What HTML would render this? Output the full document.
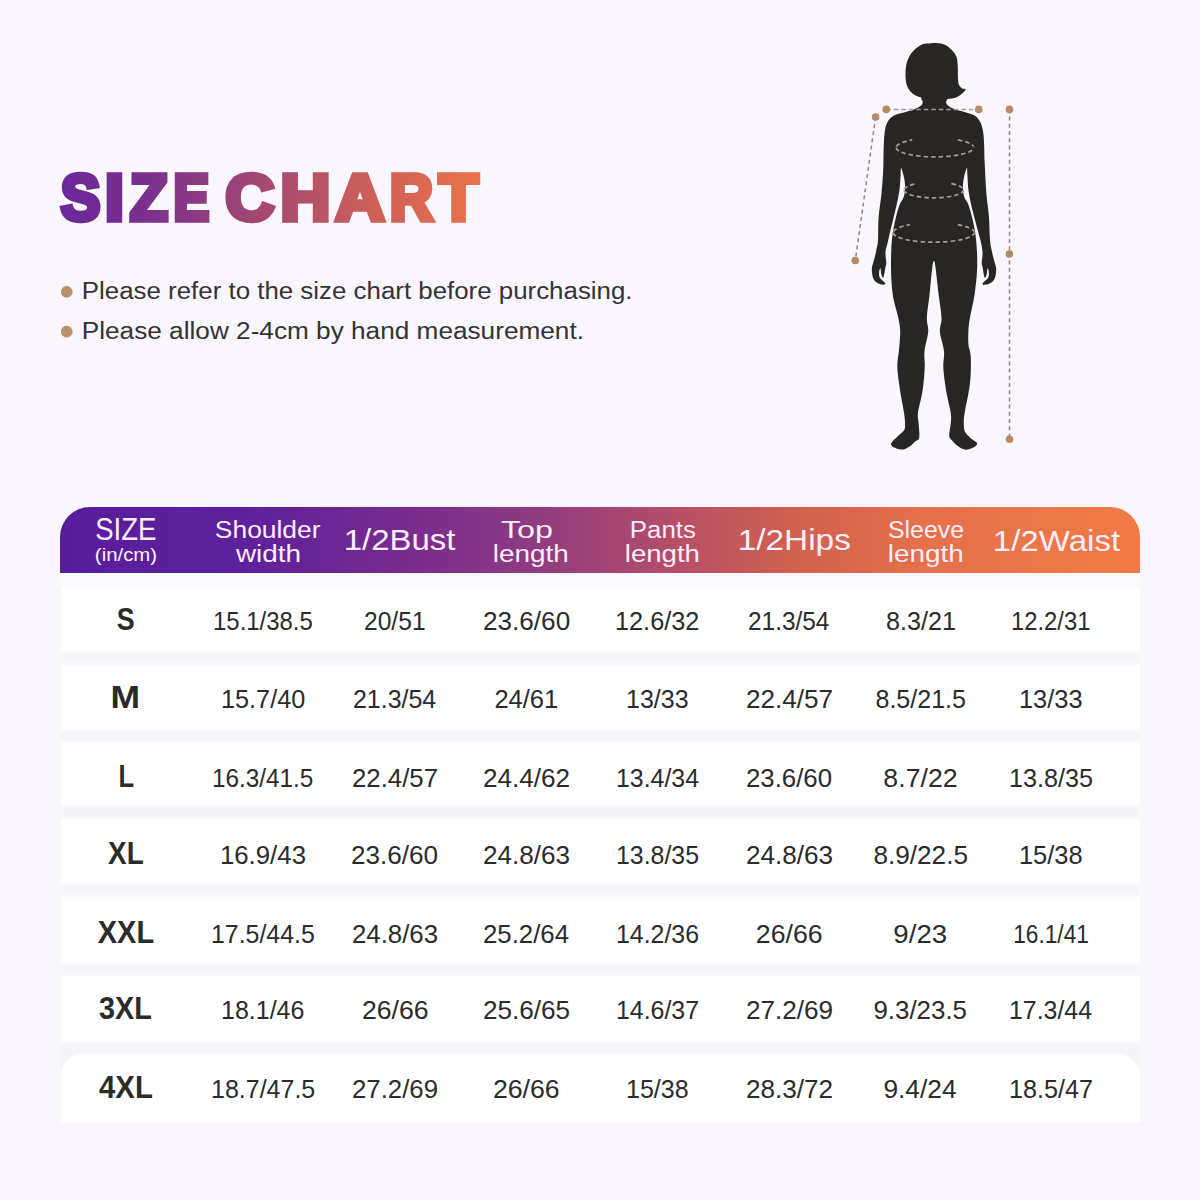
<!DOCTYPE html><html><head><meta charset="utf-8"><style>
html,body{margin:0;padding:0;}
body{width:1200px;height:1200px;position:relative;overflow:hidden;background:#f9f7fd;}
svg{position:absolute;left:0;top:0;}
</style></head><body>
<svg width="1200" height="1200" viewBox="0 0 1200 1200" style="font-family:'Liberation Sans',sans-serif">
<defs><linearGradient id="tg" gradientUnits="userSpaceOnUse" x1="60" y1="0" x2="480" y2="0"><stop offset="0" stop-color="#6a2898"/><stop offset="0.2" stop-color="#7a2f90"/><stop offset="0.32" stop-color="#8b3a84"/><stop offset="0.45" stop-color="#a04574"/><stop offset="0.58" stop-color="#b35168"/><stop offset="0.71" stop-color="#c95d5c"/><stop offset="0.84" stop-color="#d86652"/><stop offset="1" stop-color="#e8734a"/></linearGradient>
<linearGradient id="hg" gradientUnits="userSpaceOnUse" x1="60" y1="0" x2="1140" y2="0"><stop offset="0" stop-color="#581d9d"/><stop offset="0.176" stop-color="#5f219b"/><stop offset="0.315" stop-color="#772b8f"/><stop offset="0.426" stop-color="#8c3983"/><stop offset="0.519" stop-color="#a64672"/><stop offset="0.593" stop-color="#bd5262"/><stop offset="0.676" stop-color="#d0604f"/><stop offset="0.8" stop-color="#e5704a"/><stop offset="1" stop-color="#f07b45"/></linearGradient></defs>
<circle cx="66.75" cy="291.9" r="5.9" fill="#bd906c"/>
<circle cx="66.75" cy="331.6" r="5.9" fill="#bd906c"/>
<g fill="none" stroke="#8d8781" stroke-width="1.5" stroke-dasharray="4 3.2">
<line x1="875.6" y1="117" x2="855.3" y2="260.5"/>
<line x1="1009.5" y1="109.4" x2="1009.5" y2="439.3"/>
</g>
<path fill="#282625" d="M936.2 43.0 C939.1 43.2 942.8 43.7 945.5 45.0 C948.2 46.3 950.6 48.8 952.5 50.8 C954.4 52.8 955.7 54.6 956.6 57.3 C957.5 60.0 957.6 63.6 957.8 67.2 C958.0 70.8 957.8 75.9 958.0 78.8 C958.2 81.7 958.3 83.1 958.9 84.7 C959.5 86.3 960.7 87.4 961.8 88.2 C962.9 89.0 965.4 88.5 965.6 89.3 C965.8 90.1 964.4 91.5 963.0 92.8 C961.6 94.1 959.4 95.9 957.2 96.9 C955.0 97.9 953.3 98.3 949.6 98.7 C945.9 99.1 940.0 99.8 935.0 99.5 C930.0 99.2 923.2 98.0 919.3 96.9 C915.4 95.8 913.8 94.7 911.7 92.8 C909.7 90.9 908.0 88.6 907.0 85.8 C906.0 83.0 905.6 79.5 905.5 75.9 C905.4 72.3 905.7 67.7 906.4 64.3 C907.1 60.9 908.4 58.0 909.9 55.5 C911.4 53.0 913.2 51.0 915.2 49.1 C917.2 47.2 920.1 45.3 922.2 44.4 C924.3 43.5 925.7 43.8 928.0 43.6 C930.3 43.4 933.3 42.8 936.2 43.0Z"/>
<path fill="#282625" d="M922.8 97.0 C926.6 96.1 942.2 96.1 946.1 97.0 C950.0 97.9 945.7 100.7 946.1 102.2 C946.5 103.7 946.8 104.6 948.3 105.8 C949.8 107.0 952.5 108.5 955.0 109.5 C957.5 110.5 960.0 110.7 963.3 111.7 C966.6 112.8 972.1 113.9 975.0 115.8 C977.9 117.7 979.4 120.4 980.8 123.3 C982.2 126.2 982.7 129.4 983.3 133.3 C983.9 137.2 984.0 142.0 984.2 146.7 C984.4 151.4 984.2 153.7 984.6 161.3 C985.0 168.9 985.6 183.1 986.3 192.5 C987.0 201.9 988.4 209.6 989.0 217.5 C989.6 225.4 989.5 234.5 990.0 240.0 C990.5 245.5 991.0 246.9 991.7 250.4 C992.4 253.9 993.4 257.7 994.2 260.8 C995.0 263.9 996.2 266.1 996.2 269.2 C996.2 272.3 995.6 277.1 994.2 279.6 C992.8 282.1 989.9 283.5 987.9 284.2 C985.9 284.9 982.4 284.9 982.5 283.8 C982.6 282.6 987.3 279.6 988.3 277.5 C989.3 275.4 988.9 272.8 988.8 271.2 C988.6 269.7 987.8 267.8 987.5 268.3 C987.2 268.8 987.2 272.7 986.7 274.2 C986.2 275.7 985.3 278.7 984.6 277.5 C983.9 276.3 983.0 269.4 982.5 267.0 C982.0 264.6 981.7 265.3 981.7 262.9 C981.7 260.5 982.7 256.3 982.5 252.5 C982.3 248.7 981.6 245.4 980.4 240.0 C979.1 234.6 976.5 225.8 975.0 220.0 C973.5 214.2 972.4 210.0 971.2 205.0 C970.1 200.0 969.0 195.0 968.4 190.0 C967.8 185.0 967.7 178.7 967.4 175.0 C967.1 171.3 967.4 167.2 966.8 168.0 C966.1 168.8 964.1 176.3 963.5 180.0 C962.9 183.7 962.8 187.1 963.0 190.0 C963.2 192.9 963.6 195.0 964.5 197.5 C965.4 200.0 967.1 201.2 968.5 205.0 C969.9 208.8 971.4 214.2 972.7 220.0 C974.0 225.8 975.4 232.1 976.1 240.0 C976.9 247.9 977.5 258.3 977.2 267.5 C976.9 276.7 975.7 286.6 974.5 295.0 C973.3 303.4 970.9 311.9 969.9 318.0 C968.9 324.1 968.6 327.2 968.4 331.7 C968.2 336.2 968.1 340.8 968.5 345.0 C968.9 349.2 970.5 350.3 970.7 356.7 C971.0 363.1 971.0 374.0 970.0 383.3 C969.0 392.6 965.7 406.1 964.7 412.7 C963.7 419.3 963.7 419.8 963.8 423.0 C963.8 426.2 963.8 429.1 965.0 431.7 C966.2 434.2 968.8 436.4 970.8 438.3 C972.8 440.2 976.7 441.8 977.1 443.3 C977.5 444.8 975.3 446.4 973.3 447.5 C971.3 448.6 967.6 449.9 965.0 449.6 C962.4 449.3 959.7 447.4 957.5 445.8 C955.3 444.2 953.1 441.7 951.7 440.0 C950.3 438.3 949.4 438.6 949.2 435.8 C949.1 433.0 950.5 426.9 950.8 423.0 C951.0 419.1 951.5 418.2 950.7 412.7 C949.9 407.2 947.2 397.6 946.0 390.0 C944.8 382.4 943.6 373.8 943.3 367.3 C943.0 360.8 944.6 356.9 944.0 351.0 C943.4 345.1 940.3 337.2 939.9 331.7 C939.5 326.2 941.7 324.1 941.5 318.0 C941.3 311.9 939.7 303.4 938.7 295.0 C937.7 286.6 936.3 273.1 935.5 267.5 C934.7 261.9 934.6 261.1 934.1 261.1 C933.6 261.1 933.1 261.9 932.3 267.5 C931.5 273.1 930.4 286.6 929.5 295.0 C928.6 303.4 927.0 311.9 926.8 318.0 C926.6 324.1 928.6 326.2 928.2 331.7 C927.8 337.2 925.1 345.1 924.5 351.0 C923.9 356.9 925.0 360.8 924.7 367.3 C924.4 373.8 923.8 382.4 922.7 390.0 C921.6 397.6 918.7 407.2 918.0 412.7 C917.3 418.2 918.4 418.9 918.6 423.0 C918.8 427.1 919.8 434.4 919.2 437.5 C918.6 440.6 916.7 440.2 915.0 441.7 C913.3 443.2 911.4 445.4 909.2 446.7 C907.0 448.0 904.4 449.6 901.7 449.6 C899.1 449.7 895.0 448.1 893.3 447.0 C891.6 445.9 890.6 445.0 891.2 443.3 C891.9 441.6 894.8 439.2 897.0 437.0 C899.2 434.8 902.9 432.3 904.2 430.0 C905.5 427.7 905.0 425.9 905.0 423.0 C905.0 420.1 904.8 418.2 904.0 412.7 C903.2 407.2 901.1 397.6 900.0 390.0 C898.9 382.4 897.5 374.0 897.3 367.3 C897.1 360.6 898.5 355.9 899.0 350.0 C899.5 344.1 900.3 337.0 900.2 331.7 C900.1 326.4 899.5 324.1 898.3 318.0 C897.1 311.9 894.0 303.4 892.8 295.0 C891.6 286.6 891.1 276.7 891.0 267.5 C890.9 258.3 891.2 247.9 891.9 240.0 C892.6 232.1 894.0 225.8 895.3 220.0 C896.6 214.2 898.1 208.8 899.5 205.0 C900.9 201.2 902.6 200.0 903.5 197.5 C904.4 195.0 904.8 192.9 905.0 190.0 C905.2 187.1 905.1 183.7 904.5 180.0 C903.9 176.3 901.9 168.8 901.2 168.0 C900.6 167.2 900.9 171.3 900.6 175.0 C900.3 178.7 900.2 185.0 899.5 190.0 C898.8 195.0 897.7 200.0 896.6 205.0 C895.5 210.0 894.5 213.8 893.0 220.0 C891.5 226.2 889.0 236.6 887.8 242.0 C886.5 247.4 885.7 249.0 885.5 252.5 C885.3 256.0 886.3 260.5 886.3 262.9 C886.3 265.3 886.0 264.6 885.5 267.0 C885.0 269.4 884.1 276.3 883.4 277.5 C882.7 278.7 881.8 275.7 881.3 274.2 C880.8 272.7 880.8 268.8 880.5 268.3 C880.2 267.8 879.4 269.7 879.2 271.2 C879.1 272.8 878.7 275.4 879.7 277.5 C880.7 279.6 885.4 282.6 885.5 283.8 C885.6 284.9 882.1 284.9 880.1 284.2 C878.1 283.5 875.2 282.1 873.8 279.6 C872.4 277.1 871.8 272.3 871.8 269.2 C871.8 266.1 873.0 263.9 873.8 260.8 C874.6 257.7 875.6 253.9 876.3 250.4 C877.0 246.9 877.6 245.5 878.0 240.0 C878.4 234.5 878.0 225.4 878.6 217.5 C879.2 209.6 880.8 200.8 881.6 192.5 C882.4 184.2 882.9 175.1 883.3 167.5 C883.6 159.9 883.4 152.9 883.7 146.7 C884.0 140.4 884.2 134.3 885.0 130.0 C885.8 125.7 886.6 123.3 888.3 120.8 C890.0 118.3 891.9 116.5 895.0 115.0 C898.1 113.5 903.5 112.6 906.7 111.7 C909.9 110.8 911.6 110.5 914.0 109.5 C916.4 108.5 919.3 107.0 920.8 105.8 C922.3 104.6 922.4 103.7 922.8 102.2 C923.1 100.7 918.9 97.9 922.8 97.0Z"/>
<g fill="none" stroke="#a39d97" stroke-width="1.7" stroke-dasharray="4.5 3">
<line x1="886.3" y1="109.5" x2="978.8" y2="109.5"/>
<path d="M896.2 147.5 A38.8 9.4 0 0 0 973.8 147.5"/>
<path d="M896.4 146.6 A38.8 9.4 0 0 1 912.2 139.9"/>
<path d="M957.8 139.9 A38.8 9.4 0 0 1 973.6 146.6"/>
<path d="M904.1 190.0 A29.7 7.8 0 0 0 963.5 190.0"/>
<path d="M904.2 189.3 A29.7 7.8 0 0 1 916.3 183.7"/>
<path d="M951.3 183.7 A29.7 7.8 0 0 1 963.4 189.3"/>
<path d="M893.2 232.5 A40.6 9.7 0 0 0 974.4 232.5"/>
<path d="M893.4 231.6 A40.6 9.7 0 0 1 909.9 224.7"/>
<path d="M957.7 224.7 A40.6 9.7 0 0 1 974.2 231.6"/>
</g>
<circle cx="886.3" cy="109.4" r="3.8" fill="#b48b66"/>
<circle cx="978.8" cy="109.4" r="3.8" fill="#b48b66"/>
<circle cx="1009.5" cy="109.4" r="3.8" fill="#b48b66"/>
<circle cx="875.6" cy="117.0" r="3.8" fill="#b48b66"/>
<circle cx="855.3" cy="260.5" r="3.8" fill="#b48b66"/>
<circle cx="1009.5" cy="254.0" r="3.8" fill="#b48b66"/>
<circle cx="1009.5" cy="439.3" r="3.8" fill="#b48b66"/>
<path d="M60 573 L60 537 A30 30 0 0 1 90 507 L1110 507 A30 30 0 0 1 1140 537 L1140 573 Z" fill="url(#hg)"/>
<rect x="61" y="573" width="1079" height="549" fill="#ffffff"/>
<rect x="61" y="573" width="1079" height="14" fill="#fbfafd"/>
<filter id="gb" x="-5%" y="-100%" width="110%" height="300%"><feGaussianBlur stdDeviation="1.6"/></filter>
<g filter="url(#gb)">
<rect x="61" y="652.5" width="1079" height="12.0" fill="#f5f4f8"/>
<rect x="61" y="729.5" width="1079" height="12.0" fill="#f5f4f8"/>
<rect x="61" y="806.0" width="1079" height="12.0" fill="#f5f4f8"/>
<rect x="61" y="884.0" width="1079" height="12.0" fill="#f5f4f8"/>
<rect x="61" y="963.5" width="1079" height="12.0" fill="#f5f4f8"/>
<rect x="61" y="1042.0" width="1079" height="12.0" fill="#f5f4f8"/>
</g>
<path d="M61 1048.0 L61 1076.0 A22 22 0 0 1 83.0 1054.0 Z" fill="#f5f4f8"/>
<path d="M61 1048.0 L83.0 1048.0 L83.0 1054.0 Z" fill="#f5f4f8"/>
<path d="M1140 1048.0 L1140 1076.0 A22 22 0 0 0 1118.0 1054.0 L1118.0 1048.0 Z" fill="#f5f4f8"/>
<text x="81.80" y="298.50" font-size="23.50" font-weight="normal" fill="#333333" textLength="550.75" lengthAdjust="spacingAndGlyphs">Please refer to the size chart before purchasing.</text>
<text x="81.77" y="338.50" font-size="23.50" font-weight="normal" fill="#333333" textLength="502.19" lengthAdjust="spacingAndGlyphs">Please allow 2-4cm by hand measurement.</text>
<text x="95.13" y="540.00" font-size="31.30" font-weight="normal" fill="#fdeefc" textLength="61.35" lengthAdjust="spacingAndGlyphs">SIZE</text>
<text x="94.87" y="560.50" font-size="18.00" font-weight="normal" fill="#fdeefc" textLength="62.26" lengthAdjust="spacingAndGlyphs">(in/cm)</text>
<text x="214.89" y="538.00" font-size="24.70" font-weight="normal" fill="#fdeefc" textLength="105.56" lengthAdjust="spacingAndGlyphs">Shoulder</text>
<text x="235.90" y="562.00" font-size="24.70" font-weight="normal" fill="#fdeefc" textLength="65.14" lengthAdjust="spacingAndGlyphs">width</text>
<text x="343.75" y="550.00" font-size="29.30" font-weight="normal" fill="#fdeefc" textLength="111.65" lengthAdjust="spacingAndGlyphs">1/2Bust</text>
<text x="500.90" y="538.00" font-size="24.70" font-weight="normal" fill="#fdeefc" textLength="52.10" lengthAdjust="spacingAndGlyphs">Top</text>
<text x="492.74" y="562.00" font-size="24.70" font-weight="normal" fill="#fdeefc" textLength="76.01" lengthAdjust="spacingAndGlyphs">length</text>
<text x="629.88" y="538.00" font-size="24.70" font-weight="normal" fill="#fdeefc" textLength="66.00" lengthAdjust="spacingAndGlyphs">Pants</text>
<text x="624.83" y="562.00" font-size="24.70" font-weight="normal" fill="#fdeefc" textLength="75.07" lengthAdjust="spacingAndGlyphs">length</text>
<text x="737.67" y="550.00" font-size="29.30" font-weight="normal" fill="#fdeefc" textLength="113.23" lengthAdjust="spacingAndGlyphs">1/2Hips</text>
<text x="887.98" y="538.00" font-size="24.70" font-weight="normal" fill="#fdeefc" textLength="76.13" lengthAdjust="spacingAndGlyphs">Sleeve</text>
<text x="887.74" y="562.00" font-size="24.70" font-weight="normal" fill="#fdeefc" textLength="76.01" lengthAdjust="spacingAndGlyphs">length</text>
<text x="992.74" y="550.80" font-size="29.30" font-weight="normal" fill="#fdeefc" textLength="127.44" lengthAdjust="spacingAndGlyphs">1/2Waist</text>
<text x="116.86" y="629.50" font-size="31.00" font-weight="bold" fill="#2b2b2b" textLength="17.85" lengthAdjust="spacingAndGlyphs">S</text>
<text x="213.05" y="629.50" font-size="25.00" font-weight="normal" fill="#2b2b2b" textLength="99.78" lengthAdjust="spacingAndGlyphs">15.1/38.5</text>
<text x="364.02" y="629.50" font-size="25.00" font-weight="normal" fill="#2b2b2b" textLength="61.54" lengthAdjust="spacingAndGlyphs">20/51</text>
<text x="482.95" y="629.50" font-size="25.00" font-weight="normal" fill="#2b2b2b" textLength="87.25" lengthAdjust="spacingAndGlyphs">23.6/60</text>
<text x="614.95" y="629.50" font-size="25.00" font-weight="normal" fill="#2b2b2b" textLength="84.50" lengthAdjust="spacingAndGlyphs">12.6/32</text>
<text x="748.03" y="629.50" font-size="25.00" font-weight="normal" fill="#2b2b2b" textLength="81.40" lengthAdjust="spacingAndGlyphs">21.3/54</text>
<text x="885.98" y="629.50" font-size="25.00" font-weight="normal" fill="#2b2b2b" textLength="69.95" lengthAdjust="spacingAndGlyphs">8.3/21</text>
<text x="1011.06" y="629.50" font-size="25.00" font-weight="normal" fill="#2b2b2b" textLength="79.34" lengthAdjust="spacingAndGlyphs">12.2/31</text>
<text x="110.62" y="708.00" font-size="31.00" font-weight="bold" fill="#2b2b2b" textLength="29.57" lengthAdjust="spacingAndGlyphs">M</text>
<text x="220.98" y="708.00" font-size="25.00" font-weight="normal" fill="#2b2b2b" textLength="84.35" lengthAdjust="spacingAndGlyphs">15.7/40</text>
<text x="353.00" y="708.00" font-size="25.00" font-weight="normal" fill="#2b2b2b" textLength="83.23" lengthAdjust="spacingAndGlyphs">21.3/54</text>
<text x="494.44" y="708.00" font-size="25.00" font-weight="normal" fill="#2b2b2b" textLength="63.71" lengthAdjust="spacingAndGlyphs">24/61</text>
<text x="625.97" y="708.00" font-size="25.00" font-weight="normal" fill="#2b2b2b" textLength="62.60" lengthAdjust="spacingAndGlyphs">13/33</text>
<text x="745.96" y="708.00" font-size="25.00" font-weight="normal" fill="#2b2b2b" textLength="87.14" lengthAdjust="spacingAndGlyphs">22.4/57</text>
<text x="875.49" y="708.00" font-size="25.00" font-weight="normal" fill="#2b2b2b" textLength="90.47" lengthAdjust="spacingAndGlyphs">8.5/21.5</text>
<text x="1018.95" y="708.00" font-size="25.00" font-weight="normal" fill="#2b2b2b" textLength="63.66" lengthAdjust="spacingAndGlyphs">13/33</text>
<text x="118.53" y="787.00" font-size="31.00" font-weight="bold" fill="#2b2b2b" textLength="15.61" lengthAdjust="spacingAndGlyphs">L</text>
<text x="212.06" y="787.00" font-size="25.00" font-weight="normal" fill="#2b2b2b" textLength="101.17" lengthAdjust="spacingAndGlyphs">16.3/41.5</text>
<text x="351.94" y="787.00" font-size="25.00" font-weight="normal" fill="#2b2b2b" textLength="86.14" lengthAdjust="spacingAndGlyphs">22.4/57</text>
<text x="482.92" y="787.00" font-size="25.00" font-weight="normal" fill="#2b2b2b" textLength="87.15" lengthAdjust="spacingAndGlyphs">24.4/62</text>
<text x="615.99" y="787.00" font-size="25.00" font-weight="normal" fill="#2b2b2b" textLength="83.02" lengthAdjust="spacingAndGlyphs">13.4/34</text>
<text x="745.97" y="787.00" font-size="25.00" font-weight="normal" fill="#2b2b2b" textLength="86.12" lengthAdjust="spacingAndGlyphs">23.6/60</text>
<text x="883.39" y="787.00" font-size="25.00" font-weight="normal" fill="#2b2b2b" textLength="74.23" lengthAdjust="spacingAndGlyphs">8.7/22</text>
<text x="1008.98" y="787.00" font-size="25.00" font-weight="normal" fill="#2b2b2b" textLength="84.06" lengthAdjust="spacingAndGlyphs">13.8/35</text>
<text x="108.10" y="864.00" font-size="31.00" font-weight="bold" fill="#2b2b2b" textLength="35.57" lengthAdjust="spacingAndGlyphs">XL</text>
<text x="219.94" y="864.00" font-size="25.00" font-weight="normal" fill="#2b2b2b" textLength="86.04" lengthAdjust="spacingAndGlyphs">16.9/43</text>
<text x="350.94" y="864.00" font-size="25.00" font-weight="normal" fill="#2b2b2b" textLength="87.14" lengthAdjust="spacingAndGlyphs">23.6/60</text>
<text x="482.92" y="864.00" font-size="25.00" font-weight="normal" fill="#2b2b2b" textLength="87.14" lengthAdjust="spacingAndGlyphs">24.8/63</text>
<text x="615.99" y="864.00" font-size="25.00" font-weight="normal" fill="#2b2b2b" textLength="83.02" lengthAdjust="spacingAndGlyphs">13.8/35</text>
<text x="745.96" y="864.00" font-size="25.00" font-weight="normal" fill="#2b2b2b" textLength="87.14" lengthAdjust="spacingAndGlyphs">24.8/63</text>
<text x="873.43" y="864.00" font-size="25.00" font-weight="normal" fill="#2b2b2b" textLength="94.57" lengthAdjust="spacingAndGlyphs">8.9/22.5</text>
<text x="1018.95" y="864.00" font-size="25.00" font-weight="normal" fill="#2b2b2b" textLength="63.66" lengthAdjust="spacingAndGlyphs">15/38</text>
<text x="97.85" y="942.80" font-size="31.00" font-weight="bold" fill="#2b2b2b" textLength="56.21" lengthAdjust="spacingAndGlyphs">XXL</text>
<text x="211.00" y="942.80" font-size="25.00" font-weight="normal" fill="#2b2b2b" textLength="103.76" lengthAdjust="spacingAndGlyphs">17.5/44.5</text>
<text x="351.94" y="942.80" font-size="25.00" font-weight="normal" fill="#2b2b2b" textLength="86.14" lengthAdjust="spacingAndGlyphs">24.8/63</text>
<text x="482.94" y="942.80" font-size="25.00" font-weight="normal" fill="#2b2b2b" textLength="86.12" lengthAdjust="spacingAndGlyphs">25.2/64</text>
<text x="615.99" y="942.80" font-size="25.00" font-weight="normal" fill="#2b2b2b" textLength="83.02" lengthAdjust="spacingAndGlyphs">14.2/36</text>
<text x="755.86" y="942.80" font-size="25.00" font-weight="normal" fill="#2b2b2b" textLength="66.77" lengthAdjust="spacingAndGlyphs">26/66</text>
<text x="893.39" y="942.80" font-size="25.00" font-weight="normal" fill="#2b2b2b" textLength="53.77" lengthAdjust="spacingAndGlyphs">9/23</text>
<text x="1013.16" y="942.80" font-size="25.00" font-weight="normal" fill="#2b2b2b" textLength="75.73" lengthAdjust="spacingAndGlyphs">16.1/41</text>
<text x="99.07" y="1019.00" font-size="31.00" font-weight="bold" fill="#2b2b2b" textLength="52.72" lengthAdjust="spacingAndGlyphs">3XL</text>
<text x="221.00" y="1019.00" font-size="25.00" font-weight="normal" fill="#2b2b2b" textLength="83.42" lengthAdjust="spacingAndGlyphs">18.1/46</text>
<text x="361.93" y="1019.00" font-size="25.00" font-weight="normal" fill="#2b2b2b" textLength="66.68" lengthAdjust="spacingAndGlyphs">26/66</text>
<text x="482.92" y="1019.00" font-size="25.00" font-weight="normal" fill="#2b2b2b" textLength="87.14" lengthAdjust="spacingAndGlyphs">25.6/65</text>
<text x="615.99" y="1019.00" font-size="25.00" font-weight="normal" fill="#2b2b2b" textLength="83.02" lengthAdjust="spacingAndGlyphs">14.6/37</text>
<text x="745.96" y="1019.00" font-size="25.00" font-weight="normal" fill="#2b2b2b" textLength="87.14" lengthAdjust="spacingAndGlyphs">27.2/69</text>
<text x="873.43" y="1019.00" font-size="25.00" font-weight="normal" fill="#2b2b2b" textLength="93.57" lengthAdjust="spacingAndGlyphs">9.3/23.5</text>
<text x="1009.01" y="1019.00" font-size="25.00" font-weight="normal" fill="#2b2b2b" textLength="83.02" lengthAdjust="spacingAndGlyphs">17.3/44</text>
<text x="99.00" y="1098.00" font-size="31.00" font-weight="bold" fill="#2b2b2b" textLength="53.81" lengthAdjust="spacingAndGlyphs">4XL</text>
<text x="211.00" y="1098.00" font-size="25.00" font-weight="normal" fill="#2b2b2b" textLength="104.27" lengthAdjust="spacingAndGlyphs">18.7/47.5</text>
<text x="351.94" y="1098.00" font-size="25.00" font-weight="normal" fill="#2b2b2b" textLength="86.14" lengthAdjust="spacingAndGlyphs">27.2/69</text>
<text x="492.90" y="1098.00" font-size="25.00" font-weight="normal" fill="#2b2b2b" textLength="66.77" lengthAdjust="spacingAndGlyphs">26/66</text>
<text x="625.97" y="1098.00" font-size="25.00" font-weight="normal" fill="#2b2b2b" textLength="62.60" lengthAdjust="spacingAndGlyphs">15/38</text>
<text x="745.96" y="1098.00" font-size="25.00" font-weight="normal" fill="#2b2b2b" textLength="87.14" lengthAdjust="spacingAndGlyphs">28.3/72</text>
<text x="883.42" y="1098.00" font-size="25.00" font-weight="normal" fill="#2b2b2b" textLength="73.11" lengthAdjust="spacingAndGlyphs">9.4/24</text>
<text x="1008.98" y="1098.00" font-size="25.00" font-weight="normal" fill="#2b2b2b" textLength="84.07" lengthAdjust="spacingAndGlyphs">18.5/47</text>
<mask id="tm" maskUnits="userSpaceOnUse" x="0" y="0" width="1200" height="400"><text transform="translate(60.83 220.40) scale(0.9026 1)" x="0" y="0" font-size="65.70" font-weight="bold" fill="#fff" stroke="#fff" stroke-width="5.5" stroke-linejoin="miter" stroke-miterlimit="3">S</text><text transform="translate(104.96 220.40) scale(1.0338 1)" x="0" y="0" font-size="65.70" font-weight="bold" fill="#fff" stroke="#fff" stroke-width="5.5" stroke-linejoin="miter" stroke-miterlimit="3">I</text><text transform="translate(129.93 220.40) scale(0.9418 1)" x="0" y="0" font-size="65.70" font-weight="bold" fill="#fff" stroke="#fff" stroke-width="5.5" stroke-linejoin="miter" stroke-miterlimit="3">Z</text><text transform="translate(173.53 220.40) scale(0.8147 1)" x="0" y="0" font-size="65.70" font-weight="bold" fill="#fff" stroke="#fff" stroke-width="5.5" stroke-linejoin="miter" stroke-miterlimit="3">E</text><text transform="translate(225.55 220.40) scale(1.0255 1)" x="0" y="0" font-size="65.70" font-weight="bold" fill="#fff" stroke="#fff" stroke-width="5.5" stroke-linejoin="miter" stroke-miterlimit="3">C</text><text transform="translate(280.46 220.40) scale(1.0507 1)" x="0" y="0" font-size="65.70" font-weight="bold" fill="#fff" stroke="#fff" stroke-width="5.5" stroke-linejoin="miter" stroke-miterlimit="3">H</text><text transform="translate(335.41 220.40) scale(1.0317 1)" x="0" y="0" font-size="65.70" font-weight="bold" fill="#fff" stroke="#fff" stroke-width="5.5" stroke-linejoin="miter" stroke-miterlimit="3">A</text><text transform="translate(389.72 220.40) scale(0.9128 1)" x="0" y="0" font-size="65.70" font-weight="bold" fill="#fff" stroke="#fff" stroke-width="5.5" stroke-linejoin="miter" stroke-miterlimit="3">R</text><text transform="translate(438.98 220.40) scale(0.9773 1)" x="0" y="0" font-size="65.70" font-weight="bold" fill="#fff" stroke="#fff" stroke-width="5.5" stroke-linejoin="miter" stroke-miterlimit="3">T</text></mask>
<rect x="40" y="140" width="460" height="110" fill="url(#tg)" mask="url(#tm)"/>
</svg></body></html>
